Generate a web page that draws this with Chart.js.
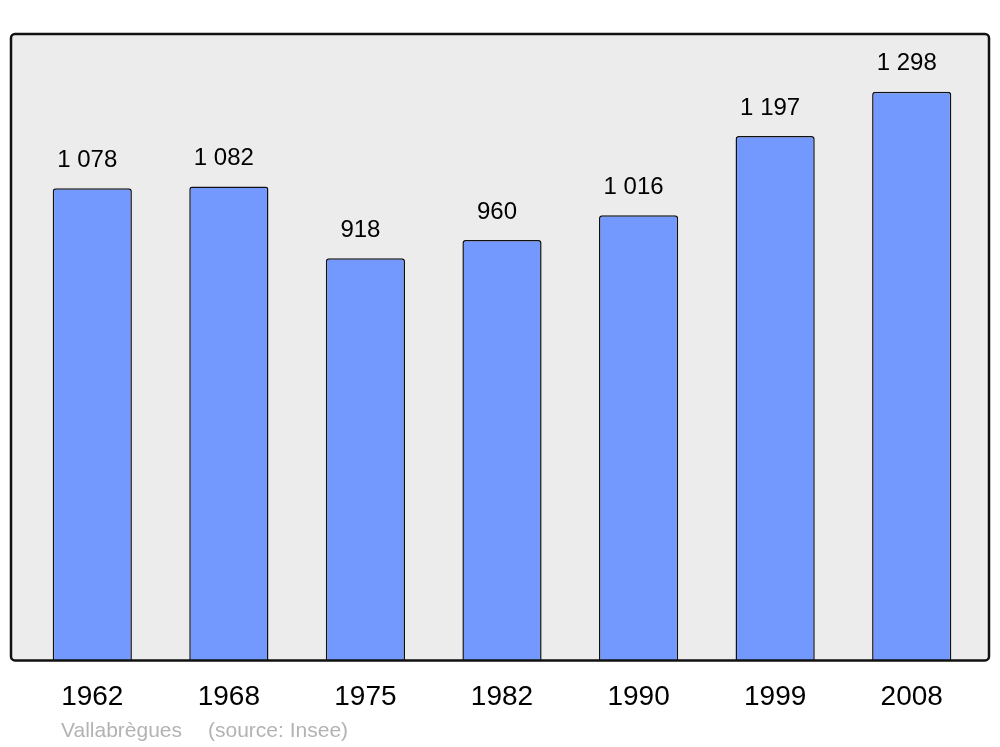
<!DOCTYPE html>
<html>
<head>
<meta charset="utf-8">
<script src="https://cdn.jsdelivr.net/npm/chart.js@4"></script>
<style>
	html, body { margin: 0; padding: 0; background: #ffffff; }
	#wrap { width: 1000px; height: 747px; position: relative; }
</style>
</head>
<body>
<div id="wrap"><canvas id="popChart" width="1000" height="747"></canvas></div>
<script>
// population data
const years = ['1962', '1968', '1975', '1982', '1990', '1999', '2008'];
const population = [1078, 1082, 918, 960, 1016, 1197, 1298];
const yMax = 1430;

const townName = 'Vallabrègues';
const sourceText = '(source: Insee)';

function formatNumber(n)
{
	// french style thousands separator
	return String(n).replace(/\B(?=(\d{3})+(?!\d))/g, ' ');
}

// grey panel with black frame behind the bars
const framePlugin = {
	id: 'frame',
	beforeDatasetsDraw: function (chart) {
		const ctx = chart.ctx;
		const a = chart.chartArea;
		ctx.save();
		ctx.beginPath();
		ctx.roundRect(a.left - 13, a.top, a.right - a.left + 22, a.bottom - a.top, 4);
		ctx.fillStyle = '#ececec';
		ctx.fill();
		ctx.restore();
	},
	afterDatasetsDraw: function (chart) {
		const ctx = chart.ctx;
		const a = chart.chartArea;
		ctx.save();
		ctx.beginPath();
		ctx.roundRect(a.left - 13, a.top, a.right - a.left + 22, a.bottom - a.top, 4);
		ctx.lineWidth = 2.5;
		ctx.strokeStyle = '#111111';
		ctx.stroke();

		// value labels above each bar
		const meta = chart.getDatasetMeta(0);
		ctx.fillStyle = '#000000';
		ctx.font = '24px "Liberation Sans", Arial, sans-serif';
		ctx.textAlign = 'center';
		ctx.textBaseline = 'middle';
		meta.data.forEach(function (bar, i) {
			ctx.fillText(formatNumber(population[i]), bar.x - 5, bar.y - 28);
		});

		// footer
		ctx.fillStyle = '#b3b3b3';
		ctx.font = '21px "Liberation Sans", Arial, sans-serif';
		ctx.textAlign = 'left';
		ctx.textBaseline = 'alphabetic';
		ctx.fillText(townName, 61, 737);
		ctx.fillText(sourceText, 208, 737);
		ctx.restore();
	}
};

const ctx = document.getElementById('popChart').getContext('2d');
new Chart(ctx, {
	type: 'bar',
	data: {
		labels: years,
		datasets: [{
			data: population,
			backgroundColor: '#7399ff',
			borderColor: '#111111',
			borderWidth: 1.5,
			borderRadius: { topLeft: 3, topRight: 3, bottomLeft: 0, bottomRight: 0 },
			borderSkipped: 'bottom',
			barPercentage: 0.58,
			categoryPercentage: 1
		}]
	},
	options: {
		responsive: false,
		animation: false,
		layout: {
			padding: { top: 34, left: 24, right: 20, bottom: 21 }
		},
		plugins: {
			legend: { display: false },
			tooltip: { enabled: false }
		},
		scales: {
			x: {
				grid: { display: false },
				border: { display: false },
				ticks: {
					color: '#000000',
					padding: 12,
					font: { family: '"Liberation Sans", Arial, sans-serif', size: 28 }
				}
			},
			y: {
				display: false,
				min: 0,
				max: yMax
			}
		}
	},
	plugins: [framePlugin]
});
</script>
</body>
</html>
